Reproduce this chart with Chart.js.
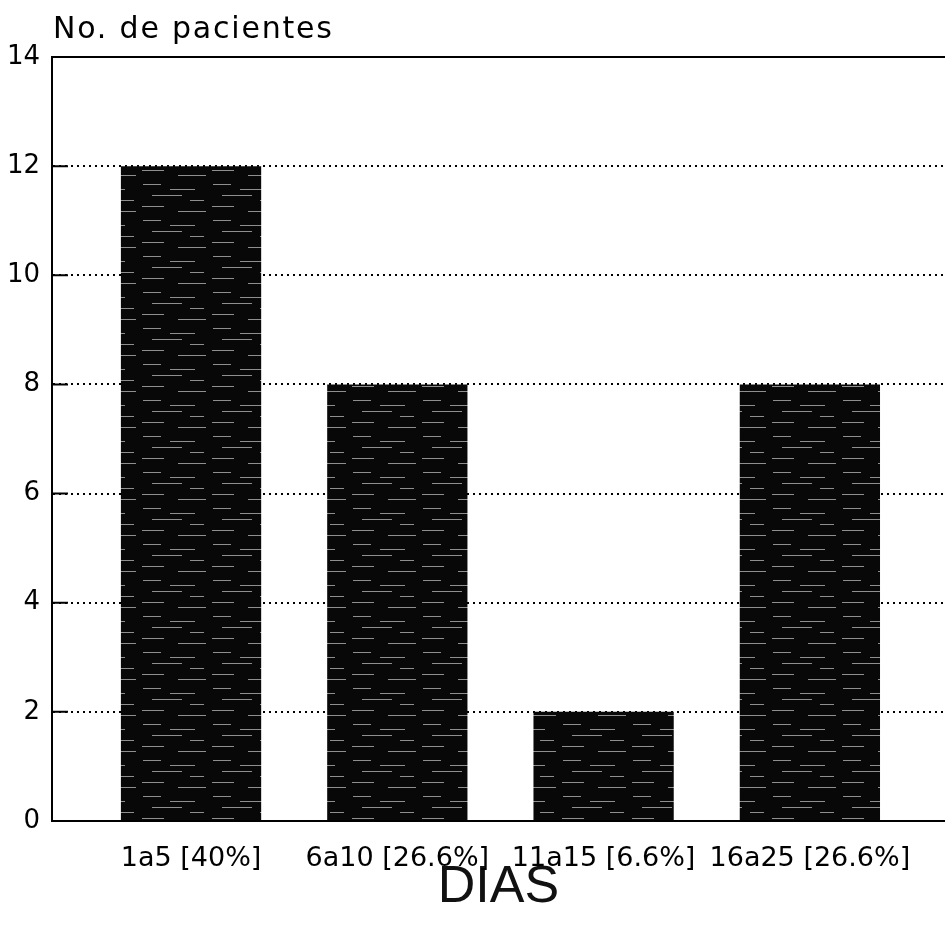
<!DOCTYPE html>
<html>
<head>
<meta charset="utf-8">
<script src="https://cdn.jsdelivr.net/npm/chart.js@4/dist/chart.umd.min.js"></script>
<style>
  html, body { margin: 0; padding: 0; background: #fff; }
  #wrap { width: 945px; height: 932px; position: relative; }
</style>
</head>
<body>
<div id="wrap"><canvas id="grafica"></canvas></div>
<script>
// datos
const categorias = ['1a5 [40%]', '6a10 [26.6%]', '11a15 [6.6%]', '16a25 [26.6%]'];
const pacientes = [12, 8, 2, 8];
const ticksY = [0, 2, 4, 6, 8, 10, 12, 14];
const tituloY = 'No. de pacientes';
const tituloX = 'DIAS';

// textura tipo fotocopia para las barras (fija, no aleatoria)
function crearTextura() {
    const c = document.createElement('canvas');
    c.width = 70; c.height = 36;
    const g = c.getContext('2d');
    g.fillStyle = '#080808';
    g.fillRect(0, 0, 70, 36);
    g.fillStyle = 'rgba(255,255,255,0.55)';
    const rayas = [[3, 4, 18], [30, 9, 25], [12, 15, 30], [50, 20, 14], [2, 26, 22], [38, 31, 28]];
    rayas.forEach(r => g.fillRect(r[0], r[1], r[2], 1));
    return g.createPattern(c, 'repeat');
}

// marco superior, marcas internas del eje Y y titulo del eje
const marco = {
    id: 'marco',
    afterDraw(chart) {
        const { ctx, chartArea } = chart;
        const escY = chart.scales.y;
        ctx.save();
        ctx.strokeStyle = '#000';
        ctx.lineWidth = 2;
        ctx.beginPath();
        ctx.moveTo(chartArea.left, chartArea.top);
        ctx.lineTo(chartArea.right, chartArea.top);
        ticksY.forEach(v => {
            const y = escY.getPixelForValue(v);
            ctx.moveTo(chartArea.left, y);
            ctx.lineTo(chartArea.left + 16, y);
        });
        ctx.stroke();
        ctx.fillStyle = '#000';
        ctx.font = '30px "DejaVu Sans"';
        ctx.letterSpacing = '1.8px';
        ctx.textBaseline = 'alphabetic';
        ctx.fillText(tituloY, 53, 38);
        ctx.restore();
    }
};

const ctx = document.getElementById('grafica').getContext('2d');
new Chart(ctx, {
    type: 'bar',
    data: {
        datasets: [{
            data: pacientes.map((v, i) => ({ x: i + 1, y: v })),
            backgroundColor: crearTextura(),
            borderWidth: 0,
            categoryPercentage: 1,
            barPercentage: 0.68
        }]
    },
    options: {
        responsive: true,
        maintainAspectRatio: false,
        animation: false,
        layout: { padding: { top: 57, left: 0, right: 0, bottom: 0 } },
        plugins: {
            legend: { display: false },
            tooltip: { enabled: false }
        },
        scales: {
            x: {
                type: 'linear',
                offset: false,
                min: 0.326,
                max: 4.655,
                grid: { display: false, drawTicks: false, offset: false },
                border: { display: true, color: '#000', width: 2 },
                afterBuildTicks: axis => { axis.ticks = categorias.map((c, i) => ({ value: i + 1 })); },
                afterFit: axis => { axis.height = 111; },
                ticks: {
                    autoSkip: false,
                    maxRotation: 0,
                    padding: 22,
                    color: '#000',
                    font: { family: 'DejaVu Sans', size: 27 },
                    callback: v => categorias[v - 1]
                },
                title: {
                    display: true,
                    text: tituloX,
                    color: '#111',
                    font: { family: 'Liberation Sans', size: 52 },
                    padding: { top: 0, bottom: 13 }
                }
            },
            y: {
                min: 0,
                max: 14,
                afterBuildTicks: axis => { axis.ticks = ticksY.map(v => ({ value: v })); },
                afterFit: axis => { axis.width = 52; },
                grid: {
                    drawTicks: false,
                    color: c => (c.tick.value === 0 || c.tick.value === 14) ? 'rgba(0,0,0,0)' : '#000',
                    lineWidth: 2
                },
                border: { display: true, color: '#000', width: 2, dash: [2, 4] },
                ticks: {
                    padding: 12,
                    color: '#000',
                    font: { family: 'DejaVu Sans', size: 26 }
                }
            }
        }
    },
    plugins: [marco]
});
</script>
</body>
</html>
